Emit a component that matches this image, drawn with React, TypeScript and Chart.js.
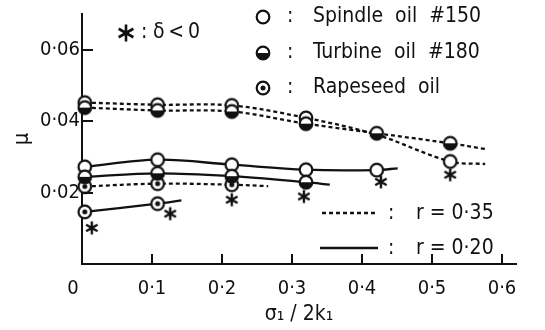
import React, { useEffect, useRef } from 'react';
import { Chart, registerables } from 'chart.js';

Chart.register(...registerables);

const INK = '#111111';
const FONT = '"DejaVu Sans Condensed", "DejaVu Sans", sans-serif';

// Friction coefficient μ against σ1/2k1 — measured points of each faired curve
const sigmaSpindle035 = [0.004, 0.108, 0.214, 0.32, 0.526];
const muSpindle035 = [0.0452, 0.0446, 0.0444, 0.0409, 0.0287];
const guideSpindle035 = [[0.421, 0.0362], [0.576, 0.028]];

const sigmaTurbine035 = [0.004, 0.108, 0.214, 0.32, 0.421, 0.526];
const muTurbine035 = [0.0438, 0.043, 0.0427, 0.0393, 0.0366, 0.0338];
const guideTurbine035 = [[0.576, 0.0322]];

const sigmaRapeseed035 = [0.004, 0.108, 0.214];
const muRapeseed035 = [0.0217, 0.0225, 0.0222];
const guideRapeseed035 = [[0.266, 0.0218]];

const sigmaSpindle020 = [0.004, 0.108, 0.214, 0.32, 0.421];
const muSpindle020 = [0.0272, 0.0292, 0.0278, 0.0264, 0.0263];
const guideSpindle020 = [[0.451, 0.0268]];

const sigmaTurbine020 = [0.004, 0.108, 0.214, 0.32];
const muTurbine020 = [0.0244, 0.0254, 0.0246, 0.0229];
const guideTurbine020 = [[0.354, 0.0222]];

const sigmaRapeseed020 = [0.004, 0.108];
const muRapeseed020 = [0.0146, 0.0169];
const guideRapeseed020 = [[0.142, 0.0178]];

// runs where δ < 0
const sigmaNegDelta = [0.014, 0.126, 0.214, 0.317, 0.427, 0.526];
const muNegDelta = [0.0101, 0.0141, 0.018, 0.0189, 0.023, 0.025];

// axes
const xTickValues = [0, 0.1, 0.2, 0.3, 0.4, 0.5, 0.6];
const xTickLabels = ['0\u2002\u2002', '0·1', '0·2', '0·3', '0·4', '0·5', '0·6'];
const yTickValues = [0.02, 0.04, 0.06];
const yTickLabels = ['0·02', '0·04', '0·06'];
const xTitle = 'σ₁ / 2k₁';
const yTitle = 'μ';

// legend texts
const oilNames = ['Spindle  oil  #150', 'Turbine  oil  #180', 'Rapeseed  oil'];
const ratioLabels = ['r = 0·35', 'r = 0·20'];
const deltaNote = 'δ\u2009<\u20090';

type Pt = { x: number; y: number; mark: boolean };

function curve(sig: number[], mu: number[], guide: number[][]): Pt[] {
  const pts: Pt[] = sig.map((s, i) => ({ x: s, y: mu[i], mark: true }));
  guide.forEach(([x, y]) => pts.push({ x, y, mark: false }));
  return pts.sort((a, b) => a.x - b.x);
}

function makeCanvas(size: number, paint: (c: CanvasRenderingContext2D, m: number) => void) {
  const cv = document.createElement('canvas');
  cv.width = size;
  cv.height = size;
  const c = cv.getContext('2d')!;
  paint(c, size / 2);
  return cv;
}

function circlePath(c: CanvasRenderingContext2D, m: number, r: number) {
  c.beginPath();
  c.arc(m, m, r, 0, Math.PI * 2);
}

function drawAsterisk(c: CanvasRenderingContext2D, cx: number, cy: number, r: number, lw: number) {
  c.save();
  c.strokeStyle = INK;
  c.lineWidth = lw;
  c.lineCap = 'butt';
  c.beginPath();
  for (let k = 0; k < 3; k++) {
    const a = Math.PI / 2 + (k * Math.PI) / 3;
    c.moveTo(cx + Math.cos(a) * r, cy - Math.sin(a) * r);
    c.lineTo(cx - Math.cos(a) * r, cy + Math.sin(a) * r);
  }
  c.stroke();
  c.restore();
}

function buildMarkers() {
  const R = 6.3;
  const LW = 2.2;
  const open = makeCanvas(18, (c, m) => {
    circlePath(c, m, R);
    c.fillStyle = '#fff';
    c.fill();
    c.lineWidth = LW;
    c.strokeStyle = INK;
    c.stroke();
  });
  const half = makeCanvas(18, (c, m) => {
    circlePath(c, m, R);
    c.fillStyle = '#fff';
    c.fill();
    c.beginPath();
    c.arc(m, m, R, 0, Math.PI);
    c.closePath();
    c.fillStyle = INK;
    c.fill();
    circlePath(c, m, R);
    c.lineWidth = LW;
    c.strokeStyle = INK;
    c.stroke();
  });
  const dotted = makeCanvas(18, (c, m) => {
    circlePath(c, m, R);
    c.fillStyle = '#fff';
    c.fill();
    c.lineWidth = LW;
    c.strokeStyle = INK;
    c.stroke();
    circlePath(c, m, 2.5);
    c.fillStyle = INK;
    c.fill();
  });
  const star = makeCanvas(18, (c, m) => drawAsterisk(c, m, m, 6.6, 2.4));
  return { open, half, dotted, star };
}

export default function App() {
  const ref = useRef<HTMLCanvasElement>(null);

  useEffect(() => {
    const mk = buildMarkers();

    const lineSet = (label: string, pts: Pt[], marker: HTMLCanvasElement, dashed: boolean) => ({
      label,
      data: pts,
      borderColor: INK,
      borderWidth: 2.3,
      borderDash: dashed ? [4, 3] : [],
      tension: 0.35,
      fill: false,
      clip: false,
      pointStyle: marker,
      pointRadius: (c: any) => (c.raw && c.raw.mark ? 7 : 0),
    });

    const figureNotes = {
      id: 'figureNotes',
      afterDraw(chart: any) {
        const { ctx } = chart;
        const xs = chart.scales.x;
        const ys = chart.scales.y;
        ctx.save();
        // tick marks pointing into the plot
        ctx.strokeStyle = INK;
        ctx.lineWidth = 2;
        ctx.beginPath();
        xs.ticks.forEach((t: any) => {
          if (t.value === 0) return;
          const px = Math.round(xs.getPixelForValue(t.value));
          ctx.moveTo(px, ys.bottom);
          ctx.lineTo(px, ys.bottom - 10);
        });
        ys.ticks.forEach((t: any) => {
          const py = Math.round(ys.getPixelForValue(t.value));
          ctx.moveTo(xs.left, py);
          ctx.lineTo(xs.left + 11, py);
        });
        ctx.stroke();

        ctx.fillStyle = INK;
        ctx.textBaseline = 'middle';
        ctx.textAlign = 'left';
        ctx.font = `21px ${FONT}`;

        // δ < 0 note
        drawAsterisk(ctx, 126, 33, 8.5, 2.6);
        ctx.fillText(':', 141, 33);
        ctx.fillText(deltaNote, 153, 33);

        // oil markers
        const rows = [17, 53, 88];
        [mk.open, mk.half, mk.dotted].forEach((m, i) => {
          ctx.drawImage(m, 263 - m.width / 2, rows[i] - m.height / 2);
          ctx.fillText(':', 287, rows[i]);
          ctx.fillText(oilNames[i], 313, rows[i]);
        });

        // line styles
        const lrows = [213, 248];
        ctx.lineWidth = 2.3;
        lrows.forEach((ly, i) => {
          ctx.beginPath();
          ctx.setLineDash(i === 0 ? [4, 3] : []);
          ctx.moveTo(i === 0 ? 322 : 320, ly);
          ctx.lineTo(378, ly);
          ctx.stroke();
          ctx.setLineDash([]);
          ctx.fillText(':', 388, ly + 1);
          ctx.fillText(ratioLabels[i], 416, ly + 1);
        });
        ctx.restore();
      },
    };

    const chart = new Chart(ref.current!, {
      type: 'line',
      data: {
        datasets: [
          {
            label: 'δ < 0',
            data: sigmaNegDelta.map((s, i) => ({ x: s, y: muNegDelta[i] })),
            showLine: false,
            pointStyle: mk.star,
            pointRadius: 7,
            clip: false,
          } as any,
          lineSet('Turbine oil #180, r = 0.35', curve(sigmaTurbine035, muTurbine035, guideTurbine035), mk.half, true),
          lineSet('Turbine oil #180, r = 0.20', curve(sigmaTurbine020, muTurbine020, guideTurbine020), mk.half, false),
          lineSet('Spindle oil #150, r = 0.35', curve(sigmaSpindle035, muSpindle035, guideSpindle035), mk.open, true),
          lineSet('Spindle oil #150, r = 0.20', curve(sigmaSpindle020, muSpindle020, guideSpindle020), mk.open, false),
          lineSet('Rapeseed oil, r = 0.35', curve(sigmaRapeseed035, muRapeseed035, guideRapeseed035), mk.dotted, true),
          lineSet('Rapeseed oil, r = 0.20', curve(sigmaRapeseed020, muRapeseed020, guideRapeseed020), mk.dotted, false),
        ],
      },
      options: {
        responsive: false,
        animation: false,
        devicePixelRatio: 1,
        events: [],
        layout: { padding: { top: 14, right: 29, bottom: 0, left: 0 } },
        plugins: { legend: { display: false }, tooltip: { enabled: false } },
        scales: {
          x: {
            type: 'linear',
            min: 0,
            max: 0.62,
            afterBuildTicks: (s: any) => {
              s.ticks = xTickValues.map((v) => ({ value: v }));
            },
            afterFit: (s: any) => {
              s.height = 66;
            },
            grid: { display: false, drawTicks: false },
            border: { display: true, color: INK, width: 2 },
            ticks: {
              autoSkip: false,
              maxRotation: 0,
              minRotation: 0,
              padding: 13,
              color: INK,
              font: { family: FONT, size: 20 },
              callback: (_v: any, i: number) => xTickLabels[i],
            },
            title: {
              display: true,
              text: xTitle,
              color: INK,
              font: { family: FONT, size: 21 },
              padding: { top: 0, bottom: 3 },
            },
          },
          y: {
            type: 'linear',
            min: 0,
            max: 0.07,
            afterBuildTicks: (s: any) => {
              s.ticks = yTickValues.map((v) => ({ value: v }));
            },
            afterFit: (s: any) => {
              s.width = 82;
            },
            grid: { display: false, drawTicks: false },
            border: { display: true, color: INK, width: 2 },
            ticks: {
              autoSkip: false,
              padding: 2,
              color: INK,
              font: { family: FONT, size: 20 },
              callback: (_v: any, i: number) => yTickLabels[i],
            },
            title: {
              display: true,
              text: yTitle,
              color: INK,
              font: { family: FONT, size: 22 },
              padding: { top: 9, bottom: 0 },
            },
          },
        },
      } as any,
      plugins: [figureNotes],
    });
    return () => chart.destroy();
  }, []);

  return (
    <div style={{ position: 'absolute', left: 0, top: 0, width: 545, height: 330, background: '#fff' }}>
      <canvas ref={ref} width={545} height={330} style={{ display: 'block', width: 545, height: 330 }} />
    </div>
  );
}
